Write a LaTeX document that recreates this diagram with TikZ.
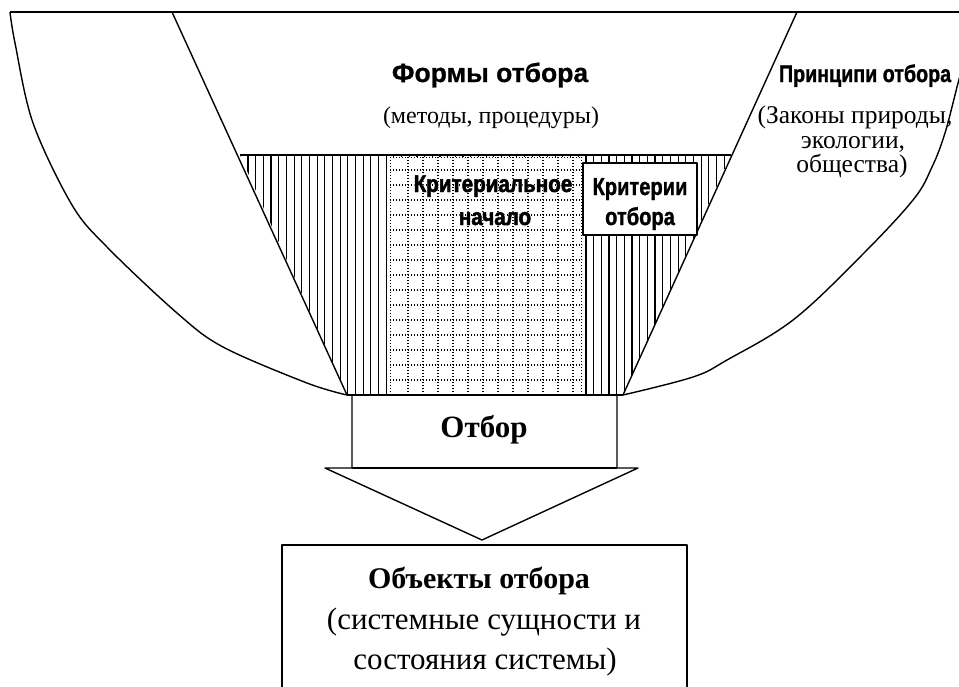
\documentclass[tikz,border=0pt]{standalone}
\usepackage{fontspec}
\setmainfont{Liberation Serif}
\newfontfamily\hsans[FakeBold=0.8]{Liberation Sans Bold}
\newfontfamily\csans[FakeStretch=0.82,FakeBold=1.2]{Liberation Sans Bold}
\newfontfamily\hvsans[FakeStretch=0.86,FakeBold=2]{Liberation Sans Bold}
\newfontfamily\halosans[FakeStretch=0.86,FakeBold=6]{Liberation Sans Bold}
\tikzset{
  mainline/.style={line width=1.4pt},
  hatchline/.style={line width=1.15pt},
  gridline/.style={line width=1.2pt, dash pattern=on 1.1pt off 1.9pt},
  lbl/.style={inner sep=0pt, anchor=base},
}
\begin{document}
\begin{tikzpicture}[x=1pt,y=-1pt,line join=round]
\useasboundingbox (0,0) rectangle (959,686);
% top line
\coordinate (tl) at (10,12);
\coordinate (tr) at (959,12);
\draw[line width=1.8pt] (tl) -- (tr);
% outer curves
\draw[mainline] plot[smooth,tension=0.55] coordinates {(10,12) (15,43) (33,123) (72,205) (107,247) (177,313) (223,347) (307,383) (347,395)};
\draw[mainline] plot[smooth,tension=0.6] coordinates {(623,395) (693,377) (727,360) (793,320) (860,257) (913,200) (932,167) (945,133) (957,87) (960,76)};
% hatched trapezoid
\coordinate (ha) at (240,155);
\coordinate (hb) at (731,155);
\coordinate (hc) at (623,395);
\coordinate (hd) at (347,395);
\begin{scope}
  \clip (ha) -- (hb) -- (hc) -- (hd) -- cycle;
  \foreach \i in {-1,...,64} \draw[hatchline] ({248+7.68*\i},150) -- ({248+7.68*\i},400);
\end{scope}
\draw[mainline] (ha) -- (hb);
\draw[mainline] (hd) -- (hc);
% inner slanted lines
\coordinate (la) at (172,12);
\coordinate (ra) at (797,12);
\draw[mainline] (la) -- (hd);
\draw[mainline] (ra) -- (hc);
% dotted grid
\fill[white] (390,156.5) rectangle (582,394);
\begin{scope}
  \clip (389,156) rectangle (583,394.5);
  \foreach \k in {1,...,15} \draw[gridline] (390,{155+15*\k}) -- (582,{155+15*\k});
  \foreach \k in {0,...,11} \draw[gridline] ({408+15*\k},157) -- ({408+15*\k},394);
  \draw[gridline] (390,157.5) -- (582,157.5);
  \draw[gridline] (390.5,157) -- (390.5,394);
  \draw[gridline] (581.5,157) -- (581.5,394);
\end{scope}
% criteria box
\node[draw, line width=1.3pt, fill=white, minimum width=114pt, minimum height=72pt, inner sep=0pt] (crit) at (640,199) {};
\node[lbl, font=\csans\fontsize{24.5}{28}\selectfont] (crit1) at (640,195) {Критерии};
\node[lbl, font=\csans\fontsize{24.5}{28}\selectfont] (crit2) at (640,225) {отбора};
% criterial origin with halo
\node[lbl, text=white, font=\halosans\fontsize{24}{28}\selectfont] (kh1) at (493,192) {Критериальное};
\node[lbl, text=white, font=\halosans\fontsize{24}{28}\selectfont] (kh2) at (495,225) {начало};
\node[lbl, font=\hvsans\fontsize{24}{28}\selectfont] (kn1) at (493,192) {Критериальное};
\node[lbl, font=\hvsans\fontsize{24}{28}\selectfont] (kn2) at (495,225) {начало};
% texts
\node[lbl, font=\hsans\fontsize{26.5}{30}\selectfont] (forms) at (490,82) {Формы отбора};
\node[lbl, font=\fontsize{24}{26}\selectfont] (methods) at (491,123) {(методы, процедуры)};
\node[lbl, font=\csans\fontsize{24}{26}\selectfont] (princ) at (865,82) {Принципи отбора};
\node[lbl, font=\fontsize{25.5}{26}\selectfont] (laws1) at (855,123) {(Законы природы,};
\node[lbl, font=\fontsize{25.5}{26}\selectfont] (laws2) at (853,148) {экологии,};
\node[lbl, font=\fontsize{25.5}{26}\selectfont] (laws3) at (852,172) {общества)};
% Otbor block arrow
\coordinate (b1) at (352,395);
\coordinate (b2) at (352,468);
\coordinate (b3) at (325,468);
\coordinate (b4) at (482,540);
\coordinate (b5) at (638,468);
\coordinate (b6) at (617,468);
\coordinate (b7) at (617,395);
\draw[mainline] (b1) -- (b2) -- (b3) -- (b4) -- (b5) -- (b6) -- (b7);
\draw[mainline] (b2) -- (b6);
\node[lbl, font=\bfseries\fontsize{31}{34}\selectfont] (otbor) at (484,437) {Отбор};
% objects box
\coordinate (o1) at (282,690);
\coordinate (o2) at (282,545);
\coordinate (o3) at (687,545);
\coordinate (o4) at (687,690);
\draw[mainline] (o1) -- (o2) -- (o3) -- (o4);
\node[lbl, font=\bfseries\fontsize{30}{34}\selectfont] (obj1) at (479,588) {Объекты отбора};
\node[lbl, font=\fontsize{31}{34}\selectfont] (obj2) at (484,629) {(системные сущности и};
\node[lbl, font=\fontsize{31}{34}\selectfont] (obj3) at (485,669) {состояния системы)};
\end{tikzpicture}
\end{document}
